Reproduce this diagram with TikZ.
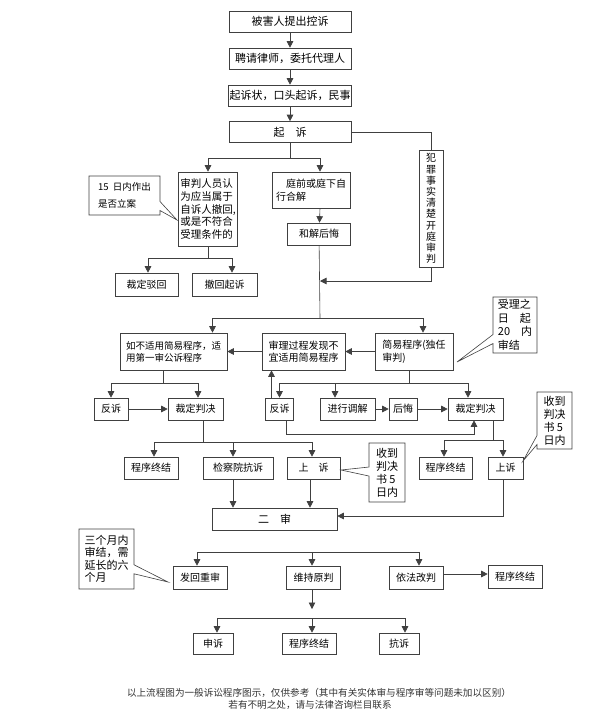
\documentclass[tikz,border=0pt]{standalone}
\usepackage{fontspec}
\setmainfont{Noto Sans CJK SC}
\usetikzlibrary{arrows.meta,shapes.callouts}
\tikzset{
  box/.style={draw=black!75, line width=.6pt, inner sep=1pt, align=center, font=\fontsize{10}{12.5}\selectfont},
  big/.style={font=\fontsize{11}{13}\selectfont},
  sz/.style 2 args={minimum width=#1pt, minimum height=#2pt},
  line/.style={draw=black!75, line width=.6pt},
  arr/.style={line, -{Triangle[length=6.5pt,width=6.5pt]}},
  note/.style={rectangle callout, draw=black!75, line width=.6pt, fill=white, inner sep=2pt, align=left, callout pointer width=9pt, font=\fontsize{11}{13}\selectfont},
}
\begin{document}
\begin{tikzpicture}[x=1pt,y=-1pt]
\useasboundingbox (0,0) rectangle (592,721);

% top chain
\node[box,big,sz={122}{21}] (b1) at (290,21.5) {被害人提出控诉};
\node[box,big,sz={122}{21}] (b2) at (290,58.5) {聘请律师，委托代理人};
\node[box,big,sz={122}{21}] (b3) at (290,95.5) {起诉状，口头起诉，民事};
\node[box,big,sz={122}{21}] (b4) at (290,132) {起　诉};

\draw[arr] (b1) -- (b2);
\draw[arr] (b2) -- (b3);
\draw[arr] (b3) -- (b4);

% after filing
\node[box,sz={59}{74},align=left,font=\fontsize{10.5}{12.7}\selectfont] (shen) at (208,209) {审判人员认\\为应当属于\\自诉人撤回,\\或是不符合\\受理条件的};
\node[box,sz={78}{36},align=left] (ting) at (311,190) {\hspace{1em}庭前或庭下自\\行合解};
\node[box,sz={63}{22}] (hejie) at (319,234) {和解后悔};
\node[box,sz={24}{117},font=\fontsize{10}{11.2}\selectfont] (fanzui) at (431,208.5) {犯\\罪\\事\\实\\清\\楚\\开\\庭\\审\\判};
\node[box,sz={63}{23}] (bo) at (146.5,284.5) {裁定驳回};
\node[box,sz={65}{23}] (che) at (224.5,284.5) {撤回起诉};

\coordinate (j1) at (290,158);
\draw[line] (b4) -- (j1);
\draw[arr] (j1) -| (shen.north);
\draw[arr] (j1) -| ([xshift=9pt]ting.north);
\draw[arr] ([xshift=9pt]ting.south) -- (hejie);
\draw[line] (b4.east) -| (fanzui.north);
\coordinate (m1) at (320,281);
\draw[arr] (fanzui.south) |- (m1);
\coordinate (j3) at (208,258);
\draw[line] (shen) -- (j3);
\draw[arr] (j3) -| ([xshift=1.5pt]bo.north);
\draw[arr] (j3) -| ([xshift=7.5pt]che.north);

% trial
\node[box,sz={107}{37},align=left,font=\fontsize{9.5}{12}\selectfont] (ru) at (173.5,351.5) {如不适用简易程序，适\\用第一审公诉程序};
\node[box,sz={83}{37},align=left] (shenli) at (303.5,351.5) {审理过程发现不\\宜适用简易程序};
\node[box,sz={78}{37},align=left] (jian) at (414,351.5) {简易程序(独任\\审判)};

\coordinate (j2) at (320,318);
\draw[line] (hejie) -- (j2);
\draw[arr] (j2) -| ([xshift=39pt]ru.north);
\draw[arr] (j2) -| ([xshift=9pt]jian.north);
\draw[arr] (jian) -- (shenli);
\draw[arr] (shenli) -- (ru);

\node[box,sz={34}{22}] (fan1) at (111,409) {反诉};
\node[box,sz={55}{22}] (cai1) at (195.5,409) {裁定判决};
\node[box,sz={28}{22}] (fan2) at (279.5,409) {反诉};
\node[box,sz={55}{22}] (tiao) at (347.5,409) {进行调解};
\node[box,sz={28}{22}] (hou) at (403,409) {后悔};
\node[box,sz={55}{22}] (cai2) at (475.5,409) {裁定判决};

\coordinate (j4) at (163,383);
\draw[line] ([xshift=-10.5pt]ru.south) -- (j4);
\draw[arr] (j4) -| (fan1.north);
\draw[arr] (j4) -| ([xshift=2.5pt]cai1.north);
\draw[arr] (fan1) -- (cai1);

\coordinate (j5) at (409,383);
\draw[line] ([xshift=-5pt]jian.south) -- (j5);
\draw[arr] (j5) -| (fan2.north);
\draw[arr] (j5) -| ([xshift=-12.5pt]tiao.north);
\draw[arr] (j5) -| ([xshift=-7.5pt]cai2.north);
\draw[arr] ([xshift=-8pt]fan2.north) -- ([xshift=-8pt]fan2.north |- shenli.south);
\draw[arr] (tiao) -- (hou);
\draw[arr] (hou) -- (cai2);
\coordinate (m2) at (474,434);
\draw[arr] ([xshift=7pt]fan2.south) |- (m2) -- (m2 |- cai2.south);

% judgement and appeal
\node[box,sz={54}{22}] (cheng1) at (151,468) {程序终结};
\node[box,sz={70}{22}] (jcy) at (238,468) {检察院抗诉};
\node[box,sz={53}{22}] (shang1) at (313.5,468) {上　诉};
\node[box,sz={53}{22}] (cheng2) at (445.5,468) {程序终结};
\node[box,sz={35}{22}] (shang2) at (505.5,468) {上诉};
\node[box,big,sz={125}{22}] (ershen) at (274.5,519) {二　审};

\coordinate (j6) at (203,442);
\draw[line] ([xshift=7.5pt]cai1.south) -- (j6);
\draw[arr] (j6) -| ([xshift=3pt]cheng1.north);
\draw[arr] (j6) -| ([xshift=-5pt]jcy.north);
\draw[arr] (j6) -| ([xshift=-1.5pt]shang1.north);
\coordinate (j7) at (493,440);
\draw[line] ([xshift=17.5pt]cai2.south) -- (j7);
\draw[arr] (j7) -| ([xshift=-1.5pt]cheng2.north);
\draw[arr] (j7) -| ([xshift=-2.5pt]shang2.north);
\draw[arr] ([xshift=-5pt]jcy.south) -- ([xshift=-5pt]jcy.south |- ershen.north);
\draw[arr] ([xshift=-3.5pt]shang1.south) -- ([xshift=-3.5pt]shang1.south |- ershen.north);
\draw[arr] ([xshift=-2.5pt]shang2.south) |- ([yshift=3pt]ershen.east);

% second instance
\node[box,sz={54}{23}] (fahui) at (200,577.5) {发回重审};
\node[box,sz={54}{23}] (weichi) at (313.5,577.5) {维持原判};
\node[box,sz={54}{23}] (yifa) at (416,577.5) {依法改判};
\node[box,sz={54}{23}] (cheng3) at (515,577) {程序终结};
\node[box,sz={40}{21}] (shensu) at (213,643.5) {申诉};
\node[box,sz={54}{21}] (cheng4) at (309,643.5) {程序终结};
\node[box,sz={40}{21}] (kang) at (399,643.5) {抗诉};

\coordinate (j8) at (312,552);
\draw[arr] (j8) -| ([xshift=-3pt]fahui.north);
\draw[arr] (j8) -- (j8 |- weichi.north);
\draw[arr] (j8) -| ([xshift=3pt]yifa.north);
\draw[arr] ([yshift=3.5pt]yifa.east) -- ([yshift=3.5pt]yifa.east -| cheng3.west);
\coordinate (a9) at (312,609);
\draw[arr] (weichi.south -| a9) -- (a9);
\coordinate (j9) at (312,618);
\draw[arr] (j9) -| ([xshift=4pt]shensu.north);
\draw[arr] (j9) -- (j9 |- cheng4.north);
\draw[arr] (j9) -| ([xshift=6pt]kang.north);

% notes
\node[note,sz={71}{39},font=\fontsize{9.5}{17}\selectfont,callout absolute pointer={(177,220)}] (n1) at (124.5,195.5) {15\ \ 日内作出\\是否立案};
\node[note,sz={44}{56},font=\fontsize{11}{13.5}\selectfont,callout absolute pointer={(457,362)}] (n2) at (515,325) {受理之\\日　起\\20　内\\审结};
\node[note,sz={36}{59},callout absolute pointer={(341,470)}] (n3) at (387,472.5) {收到\\判决\\书 5\\日内};
\node[note,sz={35}{57},callout absolute pointer={(523,461)}] (n4) at (554.5,420.5) {收到\\判决\\书 5\\日内};
\node[note,sz={55}{60},font=\fontsize{11}{12.5}\selectfont,callout absolute pointer={(168,582)}] (n5) at (106.5,559) {三个月内\\审结，需\\延长的六\\个月};

% footer
\node[font=\fontsize{9.6}{11}\selectfont, text=black!80] (foot1) at (319,693) {以上流程图为一般诉讼程序图示，仅供参考（其中有关实体审与程序审等问题未加以区别）};
\node[font=\fontsize{9.6}{11}\selectfont, text=black!80] (foot2) at (310,704.5) {若有不明之处，请与法律咨询栏目联系};
\end{tikzpicture}
\end{document}
